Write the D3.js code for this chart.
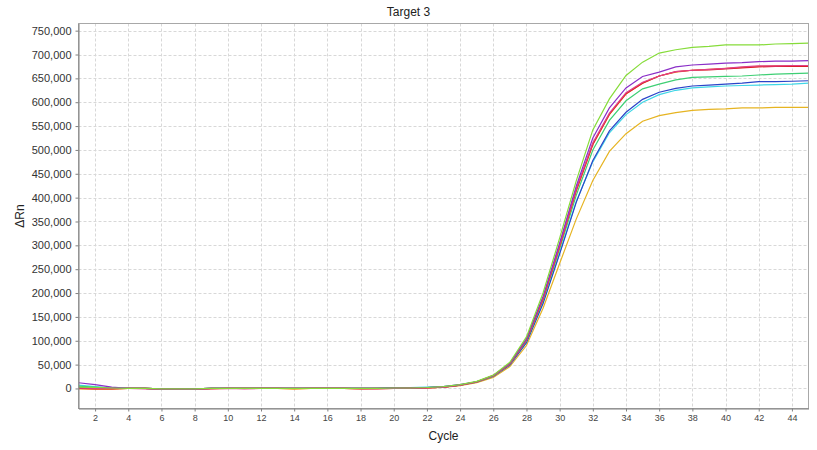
<!DOCTYPE html>
<html><head><meta charset="utf-8">
<script src="https://cdn.jsdelivr.net/npm/d3@7"></script>
<style>body{margin:0;background:#fff;}svg{display:block;font-family:"Liberation Sans",Arial,sans-serif;}</style>
</head><body>
<svg id="chart" width="817" height="450"></svg>
<script>
const title = "Target 3";
const xLabel = "Cycle";
const yLabel = "ΔRn";
const cycles = d3.range(1, 46);
const xTicks = [2,4,6,8,10,12,14,16,18,20,22,24,26,28,30,32,34,36,38,40,42,44];
const yTicks = [0,50000,100000,150000,200000,250000,300000,350000,400000,450000,500000,550000,600000,650000,700000,750000];

// values in thousands of ΔRn, cycles 1..45
const lime    = [3,2,1,0,0,-1,-1,-1,0,0,0,0,0,0,0,0,0,0,0,1,1,2, 4,8,15,28,55,108,200,315,435,542,607,656,684,703,710,715,717,720,720,720,722,723,724];
const purple  = [12,8,3,0,0,-1,-1,-1,0,0,0,0,0,0,0,0,0,0,0,1,1,2, 4,8,14,27,53,104,193,305,424,525,588,630,654,663,674,678,680,682,683,685,686,686,687];
const magenta = [1,0,0,0,-1,-2,-2,-2,-1,0,-1,0,0,0,0,0,0,-1,-1,0,1,1, 3,7,14,27,52,103,190,300,418,515,577,620,642,655,664,667,669,671,674,676,676,677,677];
const orange  = [0,-1,-1,0,0,-1,-1,-2,-1,0,0,0,0,-1,0,0,0,-1,-1,0,0,1, 3,7,13,26,51,101,187,297,414,511,574,617,640,655,663,667,669,671,673,675,676,676,677];
const red     = [0,-1,-1,0,0,-1,-1,-1,0,0,0,0,0,0,0,0,0,0,0,0,1,1, 3,7,14,27,52,102,188,298,415,512,575,618,640,655,664,667,668,670,672,674,675,675,675];
const green   = [5,3,1,0,0,-1,-1,-1,0,0,0,0,0,0,0,0,0,0,0,1,2,2, 4,7,14,26,51,100,185,292,405,500,562,603,628,638,647,652,653,654,655,657,659,660,661];
const blue    = [2,1,0,0,0,-1,-1,-1,0,0,0,0,0,0,0,0,0,0,0,1,1,2, 3,7,13,25,49,96,178,282,390,478,540,579,606,621,629,634,636,638,640,643,643,644,645];
const cyan    = [7,4,1,0,0,-1,-1,-1,0,0,0,0,0,0,0,0,0,0,0,2,2,3, 4,8,14,26,50,97,180,284,392,475,536,574,600,616,625,630,632,634,635,636,637,638,640];
const yellow  = [-1,-1,-1,0,0,-1,-1,-1,0,0,0,0,0,-1,0,0,0,-1,0,0,0,1, 2,6,12,23,46,90,168,262,355,436,497,534,560,572,578,583,585,586,588,588,589,589,589];

const seriesNames = ["yellow","cyan","blue","green","orange","red","magenta","purple","lime"];
const seriesValues = [yellow,cyan,blue,green,orange,red,magenta,purple,lime];
const seriesColors = ["#e6b422","#3fd6e6","#2b44c8","#3ecf74","#f08a1e","#dc1f2a","#e0408a","#8a2fc8","#86dc3a"];

const svg = d3.select("#chart");
const m = {l:78.5, r:808.5, t:23.5, b:408.5};
const x = d3.scaleLinear().domain([1,45]).range([m.l, m.r]);
const y = d3.scaleLinear().domain([-42000, 765000]).range([m.b, m.t]);

// grid
const grid = svg.append("g").attr("stroke","#d8d8d8").attr("stroke-dasharray","3,2").attr("stroke-width",1);
grid.selectAll("line.v").data(xTicks).join("line").attr("class","v")
  .attr("x1",d=>Math.round(x(d))+0.5).attr("x2",d=>Math.round(x(d))+0.5).attr("y1",m.t).attr("y2",m.b);
grid.selectAll("line.h").data(yTicks).join("line").attr("class","h")
  .attr("x1",m.l).attr("x2",m.r).attr("y1",d=>Math.round(y(d))+0.5).attr("y2",d=>Math.round(y(d))+0.5);

// lines
const clip = svg.append("clipPath").attr("id","clp").append("rect")
  .attr("x",m.l).attr("y",m.t).attr("width",m.r-m.l).attr("height",m.b-m.t);
const line = d3.line().x((d,i)=>x(cycles[i])).y(d=>y(d*1000));
svg.append("g").attr("clip-path","url(#clp)").selectAll("path").data(seriesValues).join("path")
  .attr("d",line).attr("fill","none").attr("stroke",(d,i)=>seriesColors[i]).attr("stroke-width",1.2);

// frame
svg.append("rect").attr("x",m.l).attr("y",m.t).attr("width",m.r-m.l).attr("height",m.b-m.t)
  .attr("fill","none").attr("stroke","#a8a8a8");

// axes
const xAxis = svg.append("g").attr("transform",`translate(0,${m.b})`)
  .call(d3.axisBottom(x).tickValues(xTicks).tickSize(3).tickPadding(3).tickSizeOuter(0));
xAxis.select(".domain").attr("stroke","#808080");
xAxis.selectAll(".tick line").attr("stroke","#808080");
xAxis.selectAll("text").attr("font-size","9px").attr("fill","#444");

const yAxis = svg.append("g").attr("transform",`translate(${m.l},0)`)
  .call(d3.axisLeft(y).tickValues(yTicks).tickFormat(d3.format(",")).tickSize(3).tickPadding(4).tickSizeOuter(0));
yAxis.select(".domain").attr("stroke","#808080");
yAxis.selectAll(".tick line").attr("stroke","#808080");
yAxis.selectAll("text").attr("font-size","11px").attr("fill","#333");

svg.append("text").attr("x",(m.l+m.r)/2-35).attr("y",16).attr("text-anchor","middle")
  .attr("font-size","12px").attr("fill","#222").text(title);
svg.append("text").attr("x",(m.l+m.r)/2).attr("y",440).attr("text-anchor","middle")
  .attr("font-size","12px").attr("fill","#222").text(xLabel);
svg.append("text").attr("transform",`translate(24,${(m.t+m.b)/2}) rotate(-90)`).attr("text-anchor","middle")
  .attr("font-size","12px").attr("fill","#222").text(yLabel);
</script>
</body></html>
